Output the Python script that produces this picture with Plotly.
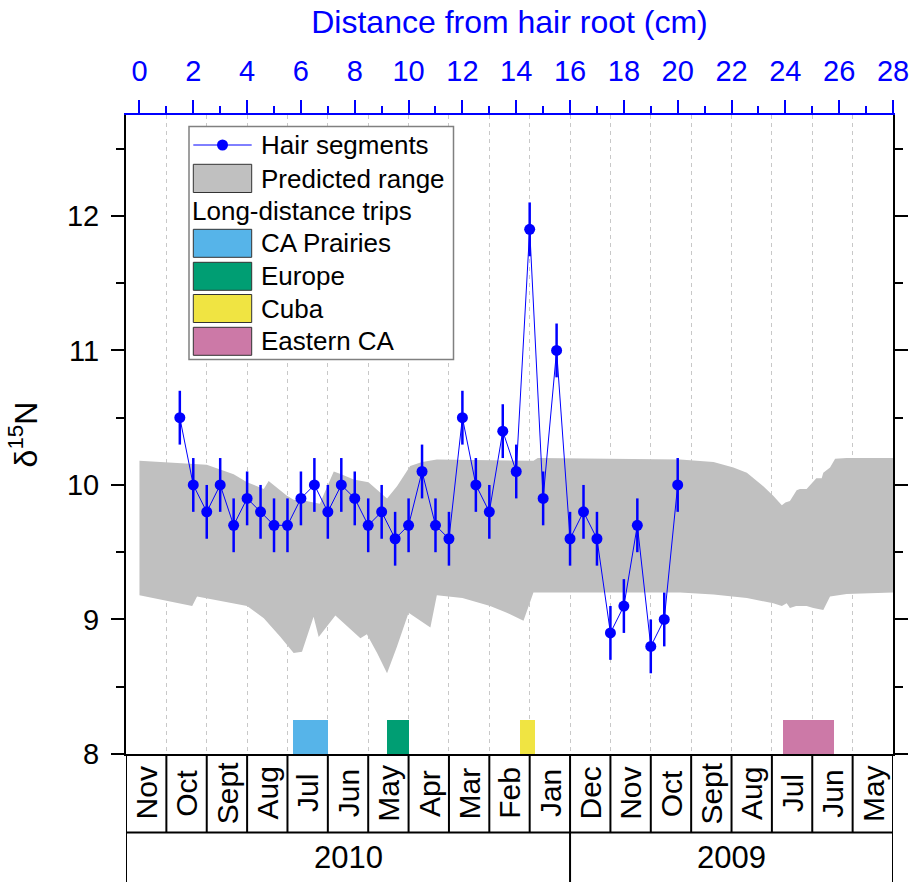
import plotly.graph_objects as go

# ---------------- data ----------------
distance_cm = [1.5, 2.0, 2.5, 3.0, 3.5, 4.0, 4.5, 5.0, 5.5, 6.0, 6.5, 7.0, 7.5, 8.0, 8.5,
               9.0, 9.5, 10.0, 10.5, 11.0, 11.5, 12.0, 12.5, 13.0, 13.5, 14.0, 14.5, 15.0,
               15.5, 16.0, 16.5, 17.0, 17.5, 18.0, 18.5, 19.0, 19.5, 20.0]
d15n = [10.5, 10.0, 9.8, 10.0, 9.7, 9.9, 9.8, 9.7, 9.7, 9.9, 10.0, 9.8, 10.0, 9.9, 9.7,
        9.8, 9.6, 9.7, 10.1, 9.7, 9.6, 10.5, 10.0, 9.8, 10.4, 10.1, 11.9, 9.9,
        11.0, 9.6, 9.8, 9.6, 8.9, 9.1, 9.7, 8.8, 9.0, 10.0]
d15n_err = [0.2] * len(d15n)

band_upper_x = [0.0, 1.0, 2.5, 3.5, 4.0, 4.62, 4.8, 5.48, 5.73, 6.2, 6.7, 7.22, 7.5, 7.96,
                8.51, 9.2, 9.57, 10.06, 10.5, 11.05, 14.64, 14.8, 20.09, 21.33, 22.07, 22.57,
                23.18, 23.55, 23.87, 24.0, 24.17, 24.42, 24.54, 24.79, 25.04, 25.15, 25.35,
                25.41, 25.66, 25.85, 26.28, 28.0]
band_upper_y = [10.18, 10.17, 10.15, 10.08, 10.02, 9.97, 10.03, 9.92, 9.89, 9.88, 9.86, 10.10,
                10.08, 10.04, 10.02, 9.90, 9.99, 10.14, 10.17, 10.19, 10.18, 10.2, 10.19,
                10.17, 10.13, 10.09, 9.99, 9.92, 9.85, 9.87, 9.88, 9.96, 9.97, 9.97, 10.03,
                10.05, 10.05, 10.09, 10.13, 10.195, 10.2, 10.2]
band_lower_x = [0.0, 1.96, 2.14, 4.0, 4.62, 5.24, 5.73, 6.04, 6.47, 6.66, 7.28, 8.21, 8.45,
                8.83, 9.2, 9.57, 10.0, 10.81, 11.05, 12.0, 13.03, 13.65, 14.27, 14.64, 20.09,
                21.33, 22.57, 23.55, 23.87, 24.05, 24.17, 24.4, 24.79, 25.04, 25.41, 25.54,
                25.66, 26.28, 28.0]
band_lower_y = [9.18, 9.10, 9.17, 9.10, 9.01, 8.87, 8.75, 8.76, 9.02, 8.87, 9.03, 8.86, 8.89,
                8.75, 8.60, 8.80, 9.05, 8.94, 9.18, 9.16, 9.10, 9.05, 8.99, 9.20, 9.20,
                9.185, 9.16, 9.12, 9.10, 9.12, 9.085, 9.10, 9.10, 9.085, 9.07, 9.12,
                9.17, 9.19, 9.2]

trip_names = ["CA Prairies", "Europe", "Cuba", "Eastern CA"]
trip_start = [5.7, 9.2, 14.15, 23.9]
trip_end = [7.0, 10.0, 14.7, 25.8]
trip_colors = ["#56B4E9", "#009E73", "#F0E442", "#CC79A7"]
trip_base = 8.0
trip_height = 0.25

month_labels = ["Nov", "Oct", "Sept", "Aug", "Jul", "Jun", "May", "Apr", "Mar", "Feb", "Jan",
                "Dec", "Nov", "Oct", "Sept", "Aug", "Jul", "Jun", "May"]
year_labels = ["2010", "2009"]
year_month_counts = [11, 8]
month_width_cm = 1.5
axis_start_cm = -0.5

top_ticks = list(range(0, 29, 2))

# ---------------- figure ----------------
FONT = "Liberation Sans, Arial, sans-serif"
BLUE = "#0000FF"
GREY = "#C0C0C0"
W, H = 913, 882
ML, MR, MT, MB = 126, 20, 115, 128
PW, PH = W - ML - MR, H - MT - MB


def px_x(p):
    return (p - ML) / PW


def px_y(p):
    return (H - MB - p) / PH


fig = go.Figure()

# predicted range band
fig.add_trace(go.Scatter(
    x=band_upper_x + band_lower_x[::-1],
    y=band_upper_y + band_lower_y[::-1],
    fill="toself", fillcolor=GREY, mode="lines", line=dict(width=0, color=GREY),
    hoverinfo="skip", showlegend=False))

# trips
fig.add_trace(go.Bar(
    x=[(s + e) / 2 for s, e in zip(trip_start, trip_end)],
    width=[e - s for s, e in zip(trip_start, trip_end)],
    y=[trip_height] * len(trip_start), base=[trip_base] * len(trip_start),
    marker=dict(color=trip_colors, line=dict(width=0)),
    hovertext=trip_names, hoverinfo="text", showlegend=False))

# hair segments
fig.add_trace(go.Scatter(
    x=distance_cm, y=d15n, mode="lines+markers",
    line=dict(color=BLUE, width=1),
    marker=dict(color=BLUE, size=11),
    error_y=dict(type="data", array=d15n_err, color=BLUE, thickness=2.5, width=0),
    showlegend=False))

# invisible trace to activate the top axis
fig.add_trace(go.Scatter(x=[0, 28], y=[None, None], xaxis="x2", yaxis="y",
                         mode="markers", showlegend=False, hoverinfo="skip"))

x_range = [axis_start_cm, axis_start_cm + month_width_cm * len(month_labels)]

fig.update_layout(
    width=W, height=H,
    margin=dict(l=ML, r=MR, t=MT, b=MB, autoexpand=False),
    paper_bgcolor="white", plot_bgcolor="white",
    font=dict(family=FONT, color="black", size=26),
    bargap=0,
    xaxis=dict(
        range=x_range, showline=True, linecolor="black", linewidth=2,
        ticks="", showticklabels=False, zeroline=False, automargin=False,
        tickmode="linear", tick0=axis_start_cm, dtick=month_width_cm,
        showgrid=True, gridcolor="#C8C8C8", gridwidth=1, griddash="4px,4px",
    ),
    xaxis2=dict(
        overlaying="x", side="top", range=x_range, automargin=False,
        showline=True, linecolor=BLUE, linewidth=2,
        ticks="outside", ticklen=13, tickwidth=2, tickcolor=BLUE,
        tickmode="array", tickvals=top_ticks, ticktext=[str(t) for t in top_ticks],
        tickfont=dict(color=BLUE, size=29, family=FONT), ticklabelstandoff=7,
        minor=dict(ticks="outside", ticklen=7, tickwidth=2, tickcolor=BLUE,
                   tickmode="linear", tick0=1, dtick=2),
        showgrid=False, zeroline=False,
        title=dict(text="Distance from hair root (cm)",
                   font=dict(color=BLUE, size=32, family=FONT), standoff=12),
    ),
    yaxis=dict(
        range=[8, 12.75], showline=True, linecolor="black", linewidth=2, mirror="ticks",
        ticks="outside", ticklen=13, tickwidth=2, tickcolor="black", automargin=False,
        tickmode="linear", tick0=8, dtick=1,
        tickfont=dict(size=29, family=FONT), ticklabelstandoff=6,
        minor=dict(ticks="outside", ticklen=8, tickwidth=2, tickcolor="black",
                   tickmode="linear", tick0=8, dtick=0.5),
        showgrid=False, zeroline=False,
        title=dict(text="δ<sup>15</sup>N", font=dict(size=32, family=FONT), standoff=20),
    ),
)

shapes = []
annotations = []

# ---- month / year table below the plot ----
y_month_bottom = px_y(832.5)
y_table_bottom = -MB / PH
n_months = len(month_labels)
for k in range(n_months + 1):
    xb = axis_start_cm + k * month_width_cm
    shapes.append(dict(type="line", xref="x", yref="paper", x0=xb, x1=xb,
                       y0=0, y1=y_month_bottom, line=dict(color="black", width=2)))
shapes.append(dict(type="line", xref="x", yref="paper", x0=x_range[0], x1=x_range[1],
                   y0=y_month_bottom, y1=y_month_bottom, line=dict(color="black", width=2)))
cum = 0
for cnt in [0] + year_month_counts:
    cum += cnt
    xb = axis_start_cm + cum * month_width_cm
    shapes.append(dict(type="line", xref="x", yref="paper", x0=xb, x1=xb,
                       y0=y_month_bottom, y1=y_table_bottom, line=dict(color="black", width=2)))

for i, m in enumerate(month_labels):
    annotations.append(dict(
        x=axis_start_cm + (i + 0.5) * month_width_cm, y=(0 + y_month_bottom) / 2,
        xref="x", yref="paper", text=m, showarrow=False, textangle=-90,
        font=dict(size=30, family=FONT, color="black"), xanchor="center", yanchor="middle"))

cum = 0
for yl, cnt in zip(year_labels, year_month_counts):
    xc = axis_start_cm + (cum + cnt / 2) * month_width_cm
    cum += cnt
    annotations.append(dict(
        x=xc, y=px_y(858), xref="x", yref="paper", text=yl, showarrow=False,
        font=dict(size=31, family=FONT, color="black"), xanchor="center", yanchor="middle"))

# ---- manual legend ----
shapes.append(dict(type="rect", xref="paper", yref="paper",
                   x0=px_x(189), x1=px_x(453.5), y0=px_y(359.5), y1=px_y(126.5),
                   line=dict(color="#808080", width=1.5), fillcolor="white", layer="above"))
sw_x0, sw_x1 = px_x(193.3), px_x(251.7)
txt_x = px_x(259)
# hair segments
shapes.append(dict(type="line", xref="paper", yref="paper", x0=sw_x0, x1=sw_x1,
                   y0=px_y(145), y1=px_y(145), line=dict(color=BLUE, width=1), layer="above"))
shapes.append(dict(type="circle", xref="paper", yref="paper", xsizemode="pixel",
                   ysizemode="pixel", xanchor=px_x(222.5), yanchor=px_y(145),
                   x0=-5.5, x1=5.5, y0=-5.5, y1=5.5, fillcolor=BLUE,
                   line=dict(color=BLUE, width=0), layer="above"))
annotations.append(dict(x=txt_x, y=px_y(145), xref="paper", yref="paper",
                        text="Hair segments", showarrow=False, xanchor="left",
                        yanchor="middle", font=dict(size=26, family=FONT)))
# predicted range
shapes.append(dict(type="rect", xref="paper", yref="paper", x0=sw_x0, x1=sw_x1,
                   y0=px_y(192.5), y1=px_y(164.3), fillcolor=GREY,
                   line=dict(color="#333333", width=1), layer="above"))
annotations.append(dict(x=txt_x, y=px_y(178.5), xref="paper", yref="paper",
                        text="Predicted range", showarrow=False, xanchor="left",
                        yanchor="middle", font=dict(size=26, family=FONT)))
annotations.append(dict(x=px_x(190), y=px_y(210.5), xref="paper", yref="paper",
                        text="Long-distance trips", showarrow=False, xanchor="left",
                        yanchor="middle", font=dict(size=26, family=FONT)))
trip_leg_top = [229.3, 262.3, 294.5, 327.3]
for name, col, top in zip(trip_names, trip_colors, trip_leg_top):
    shapes.append(dict(type="rect", xref="paper", yref="paper", x0=sw_x0, x1=sw_x1,
                       y0=px_y(top + 28), y1=px_y(top), fillcolor=col,
                       line=dict(color="#333333", width=1), layer="above"))
    annotations.append(dict(x=txt_x, y=px_y(top + 14), xref="paper", yref="paper",
                            text=name, showarrow=False, xanchor="left",
                            yanchor="middle", font=dict(size=26, family=FONT)))

fig.update_layout(shapes=shapes, annotations=annotations)

fig.write_html(
    "out.html",
    config={"displayModeBar": False},
    post_script="document.body.style.margin='0';document.body.style.padding='0';"
                "document.body.style.overflow='hidden';")
